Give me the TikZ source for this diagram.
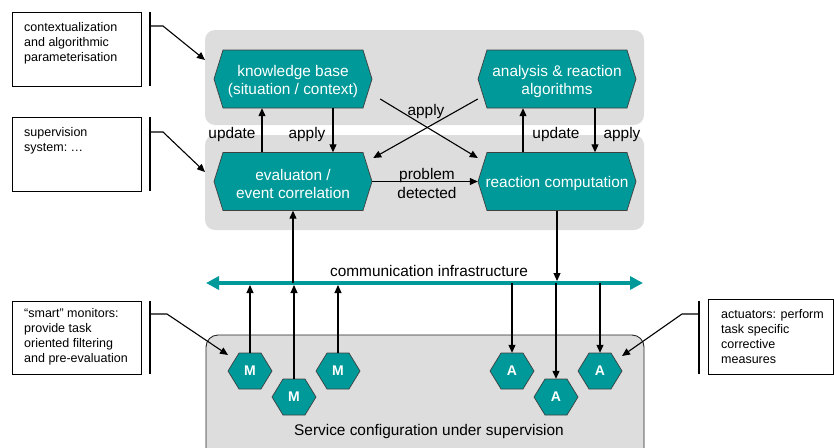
\documentclass[tikz,border=0pt]{standalone}
\usepackage{fontspec}
\setmainfont{Liberation Sans}
\usetikzlibrary{arrows.meta,calc}
\definecolor{tealfill}{RGB}{0,153,153}
\definecolor{panelgray}{RGB}{221,221,221}

% large pointed box: name, centre x, centre y, text
\newcommand\bighex[4]{%
  \filldraw[hexbody] ({#2-79},#3) -- ({#2-70},{#3-29}) -- ({#2+70},{#3-29})
    -- ({#2+79},#3) -- ({#2+70},{#3+29}) -- ({#2-70},{#3+29}) -- cycle;
  \node[hexlabel,minimum width=158pt,minimum height=58pt] (#1) at (#2,#3) {};
  \node[hexlabel] at (#2,{#3+2.5}) {#4};}

% small monitor / actuator hexagon: name, centre x, centre y, letter
\newcommand\smallhex[4]{%
  \filldraw[hexbody] ({#2-22},#3) -- ({#2-11},{#3-18}) -- ({#2+11},{#3-18})
    -- ({#2+22},#3) -- ({#2+11},{#3+18}) -- ({#2-11},{#3+18}) -- cycle;
  \node[smalllabel,minimum width=44pt,minimum height=36pt] (#1) at (#2,#3) {#4};}

\begin{document}
\begin{tikzpicture}[x=1pt,y=-1pt,
  hexbody/.style={fill=tealfill,draw=black!75,line width=0.7pt},
  hexlabel/.style={text=white,font=\fontsize{15.4}{18}\selectfont,align=center,inner sep=0pt},
  smalllabel/.style={text=white,font=\fontsize{14}{16}\selectfont\bfseries,inner sep=0pt},
  lbl/.style={font=\fontsize{15.4}{19}\selectfont,inner sep=0pt,align=center},
  arr/.style={line width=1.1pt,-{Triangle[length=8pt,width=7pt]}},
  boxframe/.style={draw=black,line width=1.2pt,fill=white,inner sep=0pt},
  boxtext/.style={font=\fontsize{12.5}{15}\selectfont,align=left,inner sep=0pt,anchor=north west},
  barline/.style={line width=1.2pt},
  bus/.style={tealfill,line width=4pt,{Triangle[length=13pt,width=13pt]}-{Triangle[length=13pt,width=13pt]}}
]
\useasboundingbox (0,0) rectangle (834,447);
\clip (0,0) rectangle (834,447);

% panels
\fill[panelgray,rounded corners=10pt] (205,30) rectangle (644,125);
\fill[panelgray,rounded corners=10pt] (205,135) rectangle (644,230);
\filldraw[fill=panelgray,draw=black!85,line width=0.9pt,rounded corners=12pt]
  (206,335) rectangle (644,470);

% main processing blocks
\bighex{kb}{293}{79}{knowledge base\\(situation / context)}
\bighex{alg}{557}{79}{analysis \& reaction\\algorithms}
\bighex{eval}{293}{181.5}{evaluaton /\\event correlation}
\bighex{react}{557}{181.5}{reaction computation}

% monitors and actuators
\smallhex{m1}{250}{371}{M}
\smallhex{m2}{294}{397}{M}
\smallhex{m3}{338}{371}{M}
\smallhex{a1}{512}{371}{A}
\smallhex{a2}{556}{397}{A}
\smallhex{a3}{600}{371}{A}

% links between the blocks
\draw[arr] ([xshift=-31pt]eval.north) -- ([xshift=-31pt]kb.south);
\draw[arr] ([xshift=40pt]kb.south) -- ([xshift=40pt]eval.north);
\draw[arr] ([xshift=-34pt]react.north) -- ([xshift=-34pt]alg.south);
\draw[arr] ([xshift=38pt]alg.south) -- ([xshift=38pt]react.north);
\draw[arr] ($(kb.east)+(8,20)$) -- ($(react.west)+(0,-23.5)$);
\draw[arr] ($(alg.west)+(0,20)$) -- ($(eval.east)+(1,-23.5)$);
\draw[arr] (eval.east) -- (react.west);

\node[lbl] (lupd1) at (232,134.5) {update};
\node[lbl] (lapp1) at (307,134.5) {apply};
\node[lbl] (lapp2) at (426,111.5) {apply};
\node[lbl] (lupd2) at (556,134.5) {update};
\node[lbl] (lapp3) at (622,134.5) {apply};
\node[lbl] (lprob) at (427,183) {problem\\detected};

% communication bus
\coordinate (busL) at (206,283);
\coordinate (busR) at (643,283);
\draw[bus] (busL) -- (busR);
\node[lbl] (lbus) at (429,271) {communication infrastructure};

\draw[arr,shorten >=2pt] (m1.north) -- (m1.north |- busL);
\draw[arr,shorten >=2pt] (m2.north) -- (m2.north |- busL);
\draw[arr,shorten >=2pt] (m3.north) -- (m3.north |- busL);
\draw[arr] (eval.south |- busL) -- (eval.south);
\draw[arr,shorten >=2pt] (react.south) -- (react.south |- busL);
\draw[arr] (a1.north |- busL) -- (a1.north);
\draw[arr] (a2.north |- busL) -- (a2.north);
\draw[arr] (a3.north |- busL) -- (a3.north);

\node[lbl] (lsvc) at (429,432) {Service configuration under supervision};

% side notes
\node[boxframe,minimum width=129pt,minimum height=74pt,anchor=north west] (n1) at (12,12) {};
\node[boxtext] at (24,22) {contextualization\\and algorithmic\\parameterisation};
\draw[barline] (150,12) -- (150,86);
\coordinate (t1) at (205,60);
\draw[arr] (150,26) -- (163,26) -- (t1);

\node[boxframe,minimum width=129pt,minimum height=74pt,anchor=north west] (n2) at (12,117) {};
\node[boxtext] at (24,127) {supervision\\system:~…};
\draw[barline] (150,117) -- (150,191);
\coordinate (t2) at (205,172);
\draw[arr] (150,132) -- (163,132) -- (t2);

\node[boxframe,minimum width=129pt,minimum height=73pt,anchor=north west] (n3) at (12,301) {};
\node[boxtext] at (24,308) {“smart” monitors:\\provide task\\oriented filtering\\and pre-evaluation};
\draw[barline] (150,301) -- (150,374);
\coordinate (t3) at (228,355);
\draw[arr] (150,314) -- (167,314) -- (t3);

\node[boxframe,minimum width=125pt,minimum height=75pt,anchor=north west] (n4) at (708,299) {};
\node[boxtext] at (721,309) {actuators: perform\\task specific\\corrective\\measures};
\draw[barline] (699,301) -- (699,374);
\coordinate (t4) at (622,356);
\draw[arr] (699,314) -- (682,314) -- (t4);
\end{tikzpicture}
\end{document}
